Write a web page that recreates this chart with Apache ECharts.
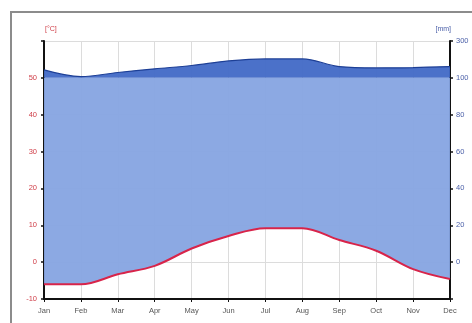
<!DOCTYPE html>
<html><head><meta charset="utf-8">
<script src="https://cdn.jsdelivr.net/npm/echarts@6/dist/echarts.min.js"></script>
<style>html,body{margin:0;padding:0;background:#fff}#c{width:472px;height:323px}</style>
</head><body><div id="c"></div>
<script>
const months = ['Jan','Feb','Mar','Apr','May','Jun','Jul','Aug','Sep','Oct','Nov','Dec'];
const temperature = [-6.0, -6.0, -3.3, -1.0, 3.7, 7.1, 9.2, 9.2, 6.0, 3.1, -1.9, -4.6];
const precipitation = [143, 107, 129, 149, 167, 192, 203, 203, 161, 154, 156, 161];
const tempTicks = [-10, 0, 10, 20, 30, 40, 50];
const mmTicks = [0, 20, 40, 60, 80, 100, 300];

// precipitation in mm mapped to the temperature scale (2 mm per °C up to 100 mm, then 20 mm per °C)
const mmToT = mm => mm <= 100 ? mm / 2 : 50 + (mm - 100) / 20;
const pEq = precipitation.map(mmToT);
const humidTop = pEq.map(v => Math.min(v, 50));
const humidBase = temperature.map((t, i) => Math.min(t, humidTop[i]));
const humidSpan = humidTop.map((v, i) => Math.max(0, v - humidBase[i]));
const wetBase = months.map(() => 50);
const wetSpan = pEq.map(v => Math.max(0, v - 50));

const SM = 0.35;
const chart = echarts.init(document.getElementById('c'), null, {renderer: 'canvas'});
const lblFont = {fontFamily: 'Liberation Sans', fontSize: 7.5};
chart.setOption({
  animation: false,
  graphic: [
    {type: 'rect', shape: {x: 11, y: 12, width: 500, height: 340}, style: {fill: 'none', stroke: '#8c8c8c', lineWidth: 2}, z: 100},
    {type: 'text', left: 45, top: 26, style: {text: '[°C]', fill: '#d0404a', font: '7px Liberation Sans'}},
    {type: 'text', right: 21, top: 26, style: {text: '[mm]', fill: '#4a5fa8', font: '7px Liberation Sans', textAlign: 'right'}}
  ],
  grid: {left: 44, right: 22, top: 41, bottom: 24},
  xAxis: {
    type: 'category', data: months, boundaryGap: false,
    axisLine: {onZero: false, lineStyle: {color: '#111', width: 2}},
    axisTick: {show: true, length: 3, lineStyle: {color: '#111', width: 1}},
    axisLabel: Object.assign({color: '#555', margin: 8}, lblFont),
    splitLine: {show: true, lineStyle: {color: '#dcdcdc', width: 1}}
  },
  yAxis: [
    {
      type: 'value', min: -10, max: 60, interval: 10, position: 'left',
      axisLine: {show: true, onZero: false, lineStyle: {color: '#111', width: 2}},
      axisTick: {show: true, length: 3, lineStyle: {color: '#111', width: 1.5}},
      axisLabel: Object.assign({color: '#d0404a', margin: 7,
        formatter: v => tempTicks.includes(v) ? String(v) : ''}, lblFont),
      splitLine: {show: true, lineStyle: {color: '#dcdcdc', width: 1}}
    },
    {
      type: 'value', min: -10, max: 60, interval: 10, position: 'right',
      axisLine: {show: true, onZero: false, lineStyle: {color: '#111', width: 2}},
      axisTick: {show: true, length: 3, lineStyle: {color: '#111', width: 1.5}},
      axisLabel: Object.assign({color: '#4a5fa8', margin: 6,
        formatter: v => { if (v < 0) return ''; const mm = v <= 50 ? v * 2 : 100 + (v - 50) * 20; return mmTicks.includes(mm) ? String(mm) : ''; }}, lblFont),
      splitLine: {show: false}
    }
  ],
  series: [
    {type: 'line', name: 'hb', data: humidBase, stack: 'h', stackStrategy: 'all', smooth: SM, symbol: 'none', lineStyle: {width: 0, opacity: 0}, silent: true},
    {type: 'line', name: 'humid', data: humidSpan, stack: 'h', stackStrategy: 'all', smooth: SM, symbol: 'none', lineStyle: {width: 0, opacity: 0},
      areaStyle: {color: '#86a4e2', opacity: 0.95}, silent: true},
    {type: 'line', name: 'wb', data: wetBase, stack: 'p', stackStrategy: 'all', symbol: 'none', lineStyle: {width: 0, opacity: 0}, silent: true},
    {type: 'line', name: 'wet', data: wetSpan, stack: 'p', stackStrategy: 'all', smooth: SM, symbol: 'none', lineStyle: {width: 1.2, color: '#1d3f96'},
      areaStyle: {color: '#4169c6', opacity: 0.95}, silent: true},
    {type: 'line', name: 'temp', data: temperature, smooth: SM, symbol: 'none', lineStyle: {width: 2, color: '#d8244a'}, z: 5, silent: true}
  ]
});
</script></body></html>
